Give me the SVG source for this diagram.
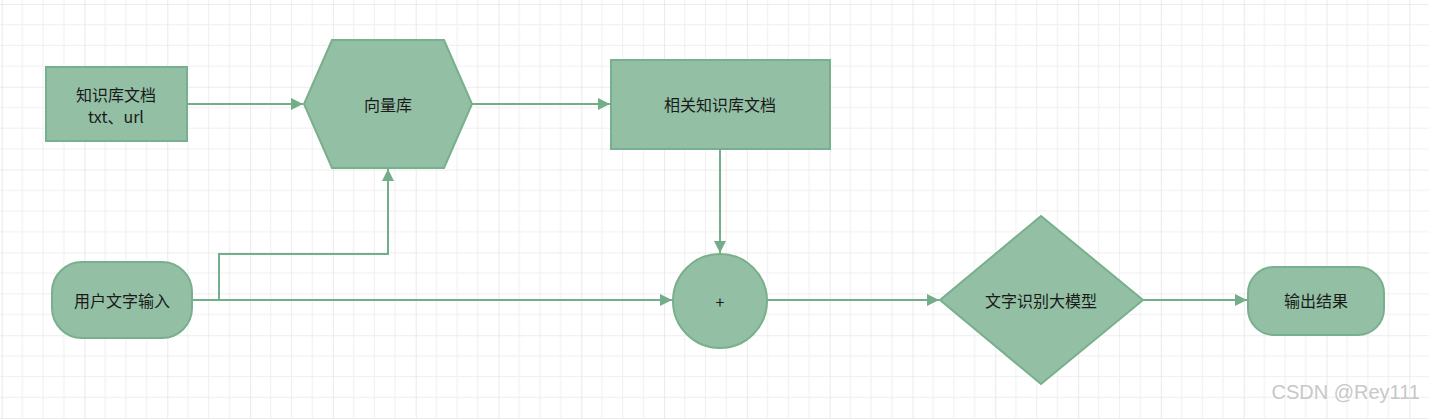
<svg xmlns="http://www.w3.org/2000/svg" width="1429" height="419" viewBox="0 0 1429 419">
<defs>
<pattern id="g" x="1.7" y="4" width="82.8" height="82.8" patternUnits="userSpaceOnUse">
<path d="M0 0V82.8M20.7 0V82.8M41.4 0V82.8M62.1 0V82.8M0 0H82.8M0 20.7H82.8M0 41.4H82.8M0 62.1H82.8" stroke="#efefef" stroke-width="1" fill="none"/>
<path d="M0 0V82.8M0 0H82.8" stroke="#e2e2e2" stroke-width="1.2" fill="none"/>
</pattern>
<marker id="a" viewBox="0 0 10 10" refX="10" refY="5" markerWidth="16" markerHeight="12" markerUnits="userSpaceOnUse" orient="auto"><path d="M0 0L10 5L0 10Z" fill="#73ae8b"/></marker>
<style>
.n{fill:#93c0a4;stroke:#78af8c;stroke-width:2}
.t{font-family:"Microsoft YaHei","Noto Sans CJK SC",sans-serif;font-size:16px;fill:#1a1a1a;text-anchor:middle;dominant-baseline:central}
.c{fill:none;stroke:#73ae8b;stroke-width:2;marker-end:url(#a)}
</style>
</defs>
<rect width="1429" height="419" fill="#fff"/>
<rect width="1429" height="419" fill="url(#g)"/>
<g id="connectors">
<path class="c" d="M187 104H303"/>
<path class="c" d="M472 104H610"/>
<path class="c" d="M720 149V253"/>
<path class="c" d="M192 300H219V254H388V169"/>
<path class="c" d="M192 300H672"/>
<path class="c" d="M767 300H939"/>
<path class="c" d="M1143 300H1247"/>
</g>
<g id="kb"><rect class="n" x="46" y="67" width="141" height="74"/><text class="t" x="116" y="94">知识库文档</text><text class="t" x="116" y="116">txt、url</text></g>
<g id="vec"><polygon class="n" points="332,40 444,40 472,104 444,168 332,168 304,104"/><text class="t" x="388" y="104">向量库</text></g>
<g id="rel"><rect class="n" x="611" y="60" width="219" height="89"/><text class="t" x="720" y="104">相关知识库文档</text></g>
<g id="input"><rect class="n" x="52" y="262" width="140" height="76" rx="30"/><text class="t" x="122" y="300">用户文字输入</text></g>
<g id="plus"><circle class="n" cx="720" cy="301" r="47"/><text class="t" x="720" y="301">+</text></g>
<g id="llm"><polygon class="n" points="1041,216 1143,300 1041,384 940,300"/><text class="t" x="1041" y="300">文字识别大模型</text></g>
<g id="out"><rect class="n" x="1248" y="267" width="136" height="68" rx="26"/><text class="t" x="1316" y="300">输出结果</text></g>
<text x="1420" y="399" font-family="'Liberation Sans',sans-serif" font-size="20" fill="#c8c8c8" text-anchor="end">CSDN @Rey111</text>
</svg>
